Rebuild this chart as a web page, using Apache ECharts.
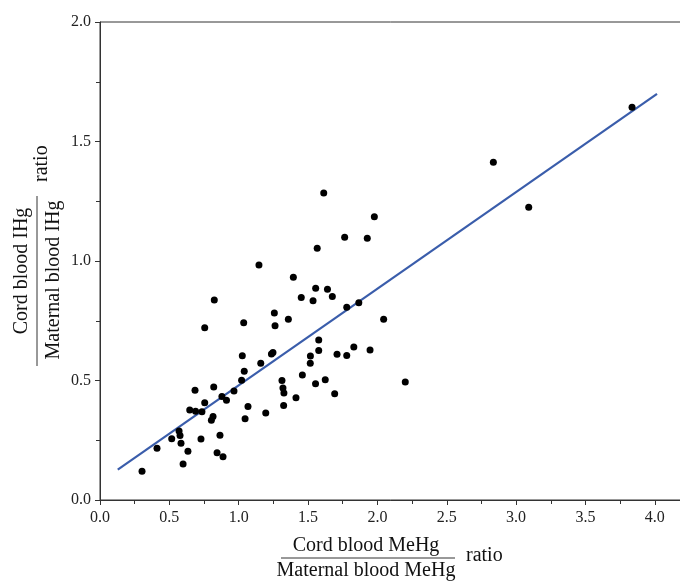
<!DOCTYPE html>
<html><head><meta charset="utf-8">
<script src="https://cdn.jsdelivr.net/npm/echarts@6/dist/echarts.min.js"></script>
<style>html,body{margin:0;padding:0;background:#fff}#c{width:680px;height:583px}</style>
</head><body><div id="c"></div>
<script>
const xValues = [0.303,0.411,0.517,0.570,0.577,0.584,0.599,0.634,0.647,0.685,0.689,0.728,0.735,0.755,0.755,0.803,0.815,0.820,0.824,0.844,0.865,0.879,0.887,0.912,0.966,1.021,1.026,1.040,1.046,1.067,1.036,1.146,1.159,1.195,1.236,1.247,1.257,1.262,1.312,1.319,1.326,1.324,1.358,1.394,1.413,1.451,1.459,1.516,1.517,1.536,1.554,1.555,1.566,1.577,1.577,1.613,1.624,1.640,1.675,1.692,1.709,1.764,1.779,1.779,1.830,1.866,1.927,1.947,1.978,2.045,2.201,2.836,3.091,3.836];
const yValues = [0.120,0.217,0.256,0.289,0.270,0.237,0.151,0.204,0.377,0.459,0.371,0.255,0.369,0.407,0.721,0.334,0.349,0.473,0.837,0.198,0.271,0.433,0.181,0.417,0.456,0.501,0.604,0.539,0.340,0.391,0.742,0.983,0.572,0.364,0.611,0.617,0.782,0.729,0.500,0.469,0.448,0.395,0.756,0.932,0.428,0.847,0.523,0.572,0.602,0.834,0.486,0.886,1.053,0.626,0.669,1.284,0.503,0.882,0.851,0.445,0.610,1.099,0.807,0.605,0.640,0.825,1.095,0.628,1.185,0.756,0.494,1.413,1.225,1.643];
const fitX = [0.128, 4.016];
const fitY = [0.127, 1.699];
const xTicks = ['0.0','0.5','1.0','1.5','2.0','2.5','3.0','3.5','4.0'];
const yTicks = ['0.0','0.5','1.0','1.5','2.0'];

const FONT = 'Liberation Serif';
const chart = echarts.init(document.getElementById('c'));
const axisCommon = {
  axisLine:{show:true,lineStyle:{color:'#333',width:1}},
  axisTick:{show:true,inside:false,length:5,lineStyle:{color:'#333'}},
  minorTick:{show:true,splitNumber:2,length:4,lineStyle:{color:'#333'}},
  splitLine:{show:false},
  axisLabel:{fontFamily:FONT,fontSize:16,color:'#222'}
};
chart.setOption({
  animation:false,
  grid:{left:100,top:22,width:624.15,height:478,show:true,borderColor:'#333',borderWidth:1,backgroundColor:'transparent',outerBoundsMode:'none',containLabel:false},
  xAxis:Object.assign({type:'value',min:0,max:4.5,interval:0.5},axisCommon,{
    axisLabel:Object.assign({},axisCommon.axisLabel,{margin:10,formatter:function(v){const s=v.toFixed(1);return xTicks.indexOf(s)>=0?s:'';}})
  }),
  yAxis:Object.assign({type:'value',min:0,max:2,interval:0.5},axisCommon,{
    axisLabel:Object.assign({},axisCommon.axisLabel,{margin:9,formatter:function(v){const s=v.toFixed(1);return yTicks.indexOf(s)>=0?s:'';}})
  }),
  series:[
    {type:'line',data:fitX.map((x,i)=>[x,fitY[i]]),symbol:'none',lineStyle:{color:'#3a5dab',width:2.2},z:2},
    {type:'scatter',data:xValues.map((x,i)=>[x,yValues[i]]),symbolSize:7,itemStyle:{color:'#000',opacity:1},z:3}
  ],
  graphic:[
    {type:'text',x:366,y:546,style:{text:'Cord blood MeHg',fontFamily:FONT,fontSize:20,fill:'#111',align:'center',verticalAlign:'middle'}},
    {type:'line',shape:{x1:281,y1:558,x2:455,y2:558},style:{stroke:'#333',lineWidth:1}},
    {type:'text',x:366,y:571,style:{text:'Maternal blood MeHg',fontFamily:FONT,fontSize:20,fill:'#111',align:'center',verticalAlign:'middle'}},
    {type:'text',x:466,y:556,style:{text:'ratio',fontFamily:FONT,fontSize:20,fill:'#111',align:'left',verticalAlign:'middle'}},
    {type:'text',x:22,y:271,rotation:Math.PI/2,style:{text:'Cord blood IHg',fontFamily:FONT,fontSize:20,fill:'#111',align:'center',verticalAlign:'middle'}},
    {type:'line',shape:{x1:37,y1:196,x2:37,y2:366},style:{stroke:'#333',lineWidth:1}},
    {type:'text',x:54,y:280,rotation:Math.PI/2,style:{text:'Maternal blood IHg',fontFamily:FONT,fontSize:20,fill:'#111',align:'center',verticalAlign:'middle'}},
    {type:'text',x:42,y:182,rotation:Math.PI/2,style:{text:'ratio',fontFamily:FONT,fontSize:20,fill:'#111',align:'left',verticalAlign:'middle'}}
  ]
});
</script></body></html>
